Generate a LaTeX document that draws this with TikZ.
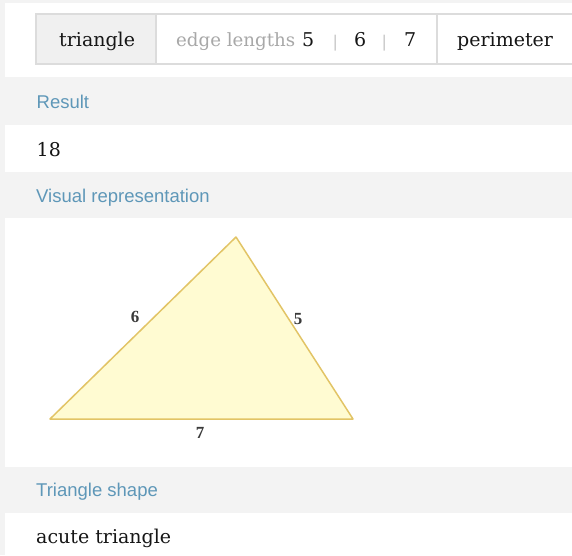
\documentclass[tikz,border=0pt]{standalone}
\usepackage{fontspec}
\setmainfont{DejaVu Serif}
\newfontfamily\hdrfont{Liberation Sans}
\newfontfamily\lblfont{Liberation Serif}
\definecolor{bandgray}{HTML}{F3F3F3}
\definecolor{boxborder}{HTML}{DCDCDC}
\definecolor{cellgray}{HTML}{F0F0F0}
\definecolor{hdrblue}{HTML}{5E97B8}
\definecolor{lightgraytxt}{HTML}{A8A8A8}
\definecolor{bartxt}{HTML}{C8C8C8}
\definecolor{darktxt}{HTML}{161616}
\definecolor{trifill}{HTML}{FFFBD2}
\definecolor{tristroke}{HTML}{E2C466}
\definecolor{lbltxt}{HTML}{3A3A3A}
\tikzset{
  band/.style={fill=bandgray, draw=none},
  hdr/.style={anchor=base west, inner sep=0pt, font=\hdrfont\fontsize{18.5}{21}\selectfont, text=hdrblue},
  inp/.style={anchor=base west, inner sep=0pt, font=\fontsize{19}{22}\selectfont, text=darktxt},
  sepbar/.style={anchor=base west, inner sep=0pt, font=\hdrfont\fontsize{17}{19}\selectfont, text=bartxt},
  res/.style={anchor=base west, inner sep=0pt, font=\fontsize{19}{22}\selectfont, text=darktxt},
  sidelbl/.style={inner sep=0pt, font=\lblfont\bfseries\fontsize{17}{19}\selectfont, text=lbltxt},
}
\begin{document}
\begin{tikzpicture}[x=1pt,y=-1pt]
\useasboundingbox (0,0) rectangle (572,555);
\begin{scope}
\clip (0,0) rectangle (572,555);
% background
\fill[bandgray] (0,0) rectangle (572,555);
\fill[white] (5,3) rectangle (572,77);
\fill[white] (5,125) rectangle (572,172);
\fill[white] (5,218) rectangle (572,467);
\fill[white] (5,513) rectangle (572,555);
% input box
\fill[cellgray] (36,14) rectangle (156,64);
\draw[boxborder, line width=1.2pt] (36,14) rectangle (600,64);
\draw[boxborder, line width=1.2pt] (156,14) -- (156,64);
\draw[boxborder, line width=1.2pt] (437,14) -- (437,64);
\end{scope}
% input texts
\node[inp] (tri) at (59,46.7) {triangle};
\node[inp, text=lightgraytxt, font=\fontsize{18.2}{21}\selectfont] (el) at (176,46.7) {edge lengths};
\node[inp] (a) at (302,46.7) {5};
\node[sepbar] (b1) at (333,47) {|};
\node[inp] (b) at (354,46.7) {6};
\node[sepbar] (b2) at (382,47) {|};
\node[inp] (c) at (404,46.7) {7};
\node[inp] (per) at (457,46.7) {perimeter};
% headers and results
\node[hdr] (h1) at (36.5,108) {Result};
\node[res] (r1) at (36.5,156) {18};
\node[hdr] (h2) at (36,202.5) {Visual representation};
\node[hdr] (h3) at (36,496.5) {Triangle shape};
\node[res] (r3) at (36,543) {acute triangle};
% triangle
\coordinate (A) at (50,419);
\coordinate (B) at (236,237);
\coordinate (C) at (353,419);
\filldraw[fill=trifill, draw=tristroke, line width=1.5pt, line join=round] (A) -- (B) -- (C) -- cycle;
\node[sidelbl] (l6) at (135,317) {6};
\node[sidelbl] (l5) at (298,319) {5};
\node[sidelbl] (l7) at (200,433) {7};
\end{tikzpicture}
\end{document}
